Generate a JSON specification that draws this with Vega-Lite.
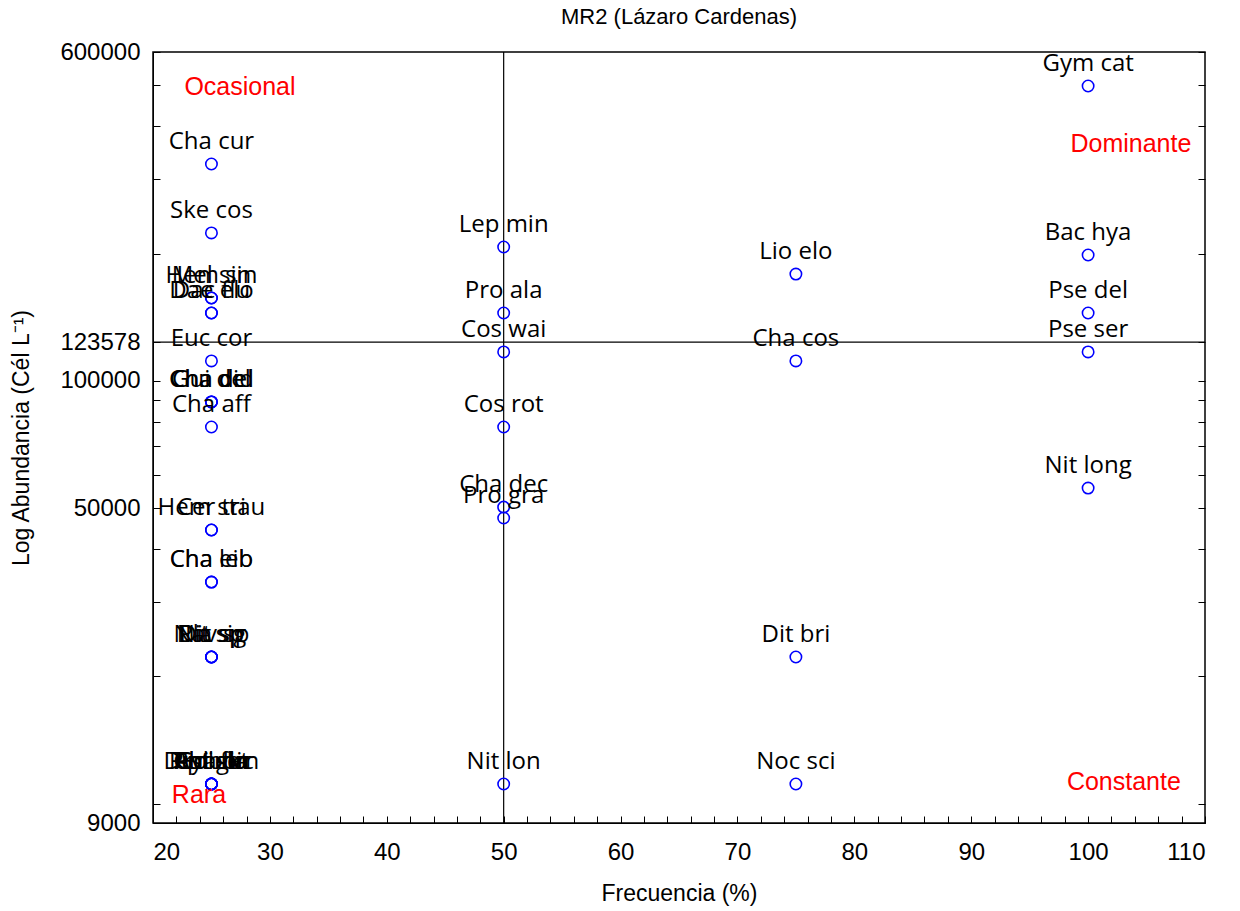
{
  "$schema": "https://vega.github.io/schema/vega-lite/v6.json",
  "width": 1052,
  "height": 771,
  "autosize": {"type": "none"},
  "padding": {"left": 153, "top": 52, "right": 35, "bottom": 88},
  "background": "white",
  "title": {"text": "MR2 (Lázaro Cardenas)", "font": "Liberation Sans", "fontSize": 22, "fontWeight": "normal", "offset": 11, "anchor": "middle", "color": "black"},
  "config": {
    "view": {"stroke": "black", "strokeWidth": 1.5},
    "axis": {"grid": false, "domainColor": "black", "tickColor": "black", "labelColor": "black", "titleColor": "black", "labelFont": "Liberation Sans", "titleFont": "Liberation Sans", "labelFontSize": 24, "titleFontSize": 23, "titleFontWeight": "normal"}
  },
  "datasets": {
    "pts": [
      {"n": "Cha cur", "f": 25, "a": 326000},
      {"n": "Ske cos", "f": 25, "a": 223900},
      {"n": "Hem sin", "f": 25, "a": 157100},
      {"n": "Mel sin", "f": 25, "a": 157100},
      {"n": "Dae elo", "f": 25, "a": 144800},
      {"n": "Dac flu", "f": 25, "a": 144800},
      {"n": "Euc cor", "f": 25, "a": 111500},
      {"n": "Cha did", "f": 25, "a": 89200},
      {"n": "Cha del", "f": 25, "a": 89200},
      {"n": "Gui del", "f": 25, "a": 89200},
      {"n": "Cha aff", "f": 25, "a": 77800},
      {"n": "Hem stau", "f": 25, "a": 44400},
      {"n": "Cer tri", "f": 25, "a": 44400},
      {"n": "Cha eib", "f": 25, "a": 33440},
      {"n": "Cha leb", "f": 25, "a": 33440},
      {"n": "Nit sig", "f": 25, "a": 22230},
      {"n": "Nav sp", "f": 25, "a": 22230},
      {"n": "Dit sp", "f": 25, "a": 22230},
      {"n": "Pla sp", "f": 25, "a": 22230},
      {"n": "Cha lin", "f": 25, "a": 11130},
      {"n": "Gui fla", "f": 25, "a": 11130},
      {"n": "Dip bom", "f": 25, "a": 11130},
      {"n": "Pro mic", "f": 25, "a": 11130},
      {"n": "Cyl clo", "f": 25, "a": 11130},
      {"n": "Ast gla", "f": 25, "a": 11130},
      {"n": "Rhi set", "f": 25, "a": 11130},
      {"n": "Lep min", "f": 50, "a": 207400},
      {"n": "Pro ala", "f": 50, "a": 144800},
      {"n": "Cos wai", "f": 50, "a": 117100},
      {"n": "Cos rot", "f": 50, "a": 77800},
      {"n": "Cha dec", "f": 50, "a": 50300},
      {"n": "Pro gra", "f": 50, "a": 47400},
      {"n": "Nit lon", "f": 50, "a": 11130},
      {"n": "Lio elo", "f": 75, "a": 179000},
      {"n": "Cha cos", "f": 75, "a": 111500},
      {"n": "Dit bri", "f": 75, "a": 22230},
      {"n": "Noc sci", "f": 75, "a": 11130},
      {"n": "Gym cat", "f": 100, "a": 498600},
      {"n": "Bac hya", "f": 100, "a": 198600},
      {"n": "Pse del", "f": 100, "a": 144800},
      {"n": "Pse ser", "f": 100, "a": 117100},
      {"n": "Nit long", "f": 100, "a": 55800}
    ],
    "quads": [
      {"n": "Ocasional", "f": 27.44, "a": 495900},
      {"n": "Dominante", "f": 103.66, "a": 363500},
      {"n": "Rara", "f": 23.93, "a": 10480},
      {"n": "Constante", "f": 103.06, "a": 11250}
    ]
  },
  "layer": [
    {
      "data": {"values": [{"f": 50}]},
      "mark": {"type": "rule", "color": "black", "strokeWidth": 1.2},
      "encoding": {
        "x": {"field": "f", "type": "quantitative", "scale": {"domain": [20, 110], "nice": false, "zero": false}, "axis": null}
      }
    },
    {
      "data": {"values": [{"a": 123578}]},
      "mark": {"type": "rule", "color": "black", "strokeWidth": 1.2},
      "encoding": {
        "y": {"field": "a", "type": "quantitative", "scale": {"type": "log", "domain": [9000, 600000], "nice": false}, "axis": null}
      }
    },
    {
      "data": {"name": "pts"},
      "mark": {"type": "point", "opacity": 0},
      "encoding": {
        "x": {"field": "f", "type": "quantitative", "scale": {"domain": [20, 110], "nice": false, "zero": false}, "axis": null},
        "y": {"field": "a", "type": "quantitative", "scale": {"type": "log", "domain": [9000, 600000], "nice": false},
          "axis": {"orient": "right", "values": [9000,10000,20000,30000,40000,50000,60000,70000,80000,90000,100000,123578,200000,300000,400000,500000,600000], "labels": false, "tickSize": -7, "domain": false, "title": null}}
      }
    },
    {
      "data": {"name": "pts"},
      "mark": {"type": "point", "shape": "circle", "filled": false, "color": "#0000ff", "size": 130, "strokeWidth": 1.6, "opacity": 1},
      "encoding": {
        "x": {"field": "f", "type": "quantitative", "scale": {"domain": [20, 110], "nice": false, "zero": false},
          "axis": {"orient": "bottom", "values": [20,22,24,26,28,30,32,34,36,38,40,42,44,46,48,50,52,54,56,58,60,62,64,66,68,70,72,74,76,78,80,82,84,86,88,90,92,94,96,98,100,102,104,106,108,110], "format": "d", "labelExpr": "datum.value % 10 === 0 ? datum.label : ''", "tickSize": -7, "labelPadding": 24, "title": "Frecuencia (%)", "titlePadding": 18}},
        "y": {"field": "a", "type": "quantitative", "scale": {"type": "log", "domain": [9000, 600000], "nice": false},
          "axis": {"orient": "left", "values": [9000,10000,20000,30000,40000,50000,60000,70000,80000,90000,100000,123578,200000,300000,400000,500000,600000], "format": "d", "labelExpr": "indexof([9000, 50000, 100000, 123578, 600000], datum.value) >= 0 ? datum.label : ''", "tickSize": -7, "labelPadding": 20, "title": "Log Abundancia (Cél L⁻¹)", "titlePadding": 26}}
      }
    },
    {
      "data": {"name": "pts"},
      "mark": {"type": "text", "font": "Open Sans", "fontSize": 24, "color": "black", "dy": -22, "baseline": "middle", "align": "center"},
      "encoding": {
        "x": {"field": "f", "type": "quantitative", "scale": {"domain": [20, 110], "nice": false, "zero": false}, "axis": null},
        "y": {"field": "a", "type": "quantitative", "scale": {"type": "log", "domain": [9000, 600000], "nice": false}, "axis": null},
        "text": {"field": "n"}
      }
    },
    {
      "data": {"name": "quads"},
      "mark": {"type": "text", "font": "Liberation Sans", "fontSize": 25, "color": "#ff0000", "baseline": "middle", "align": "center"},
      "encoding": {
        "x": {"field": "f", "type": "quantitative", "scale": {"domain": [20, 110], "nice": false, "zero": false}, "axis": null},
        "y": {"field": "a", "type": "quantitative", "scale": {"type": "log", "domain": [9000, 600000], "nice": false}, "axis": null},
        "text": {"field": "n"}
      }
    }
  ],
  "resolve": {"axis": {"x": "independent", "y": "independent"}}
}
